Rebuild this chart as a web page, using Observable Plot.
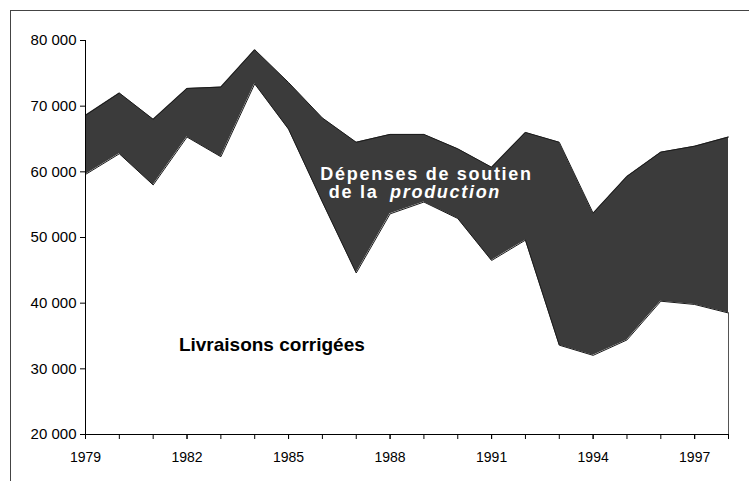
<!DOCTYPE html>
<html>
<head>
<meta charset="utf-8">
<script src="https://cdn.jsdelivr.net/npm/d3@7"></script>
<script src="https://cdn.jsdelivr.net/npm/@observablehq/plot@0.6"></script>
<style>
  html, body { margin: 0; padding: 0; background: #fff; }
  #wrap { position: relative; width: 749px; height: 481px; overflow: hidden; }
  #frame { position: absolute; left: 10px; top: 10px; right: 0; bottom: 0;
           border-left: 1px solid #444; border-top: 1px solid #444; pointer-events: none; }
  g[fill="white"] text { letter-spacing: 1.7px; }
</style>
</head>
<body>
<div id="wrap"><div id="frame"></div></div>
<script>
const years = [1979,1980,1981,1982,1983,1984,1985,1986,1987,1988,1989,1990,1991,1992,1993,1994,1995,1996,1997,1998];
const upper = [68600,72000,68000,72700,72900,78600,73600,68200,64500,65700,65700,63500,60700,66000,64500,53700,59300,63000,63900,65300];
const lower = [59600,62750,58000,65300,62300,73400,66500,55400,44600,53600,55400,52900,46500,49600,33600,32050,34400,40300,39800,38500];
const yTicks = [20000,30000,40000,50000,60000,70000,80000];
const xLabelYears = [1979,1982,1985,1988,1991,1994,1997];
const labelTop = "Dépenses de soutien";
const labelMid = "de la";
const labelItalic = "production";
const labelLow = "Livraisons corrigées";

const data = years.map((year, i) => ({year, upper: upper[i], lower: lower[i]}));
const fmt = v => d3.format(",")(v).replace(/,/g, " ");

const chart = Plot.plot({
  width: 749, height: 481,
  marginLeft: 85, marginRight: 21, marginTop: 40, marginBottom: 47,
  x: {domain: [1979, 1998], label: null},
  y: {domain: [20000, 80000], label: null},
  style: {fontFamily: "Arial, 'Liberation Sans', sans-serif", fontSize: "14px", background: "transparent", color: "#000"},
  marks: [
    Plot.areaY(data, {x: "year", y1: "lower", y2: "upper", fill: "#3b3b3b"}),
    Plot.line(data, {x: "year", y: "upper", stroke: "#1a1a1a", strokeWidth: 1}),
    Plot.line(data, {x: "year", y: "lower", stroke: "#1a1a1a", strokeWidth: 1}),
    Plot.ruleX(data.slice(-1), {x: "year", y1: 20000, y2: "lower", stroke: "#555", strokeWidth: 1}),
    Plot.ruleX([1979], {y1: 20000, y2: 80000, stroke: "#000"}),
    Plot.ruleY([20000], {x1: 1979, x2: 1998, stroke: "#000"}),
    Plot.axisY(yTicks, {tickSize: 5, tickPadding: 4, tickFormat: fmt, stroke: "#000", fontSize: 15}),
    Plot.axisX(years, {tickSize: 5, tickFormat: () => "", stroke: "#000"}),
    Plot.axisX(xLabelYears, {tickSize: 5, tickPadding: 13, tickFormat: d => String(d), stroke: "#000", fontSize: 14}),
    Plot.text([labelTop], {x: 1985.94, y: 58757, text: d => d, textAnchor: "start", lineAnchor: "bottom", fill: "white", fontWeight: "bold", fontSize: 18}),
    Plot.text([labelMid], {x: 1986.19, y: 55940, text: d => d, textAnchor: "start", lineAnchor: "bottom", fill: "white", fontWeight: "bold", fontSize: 18}),
    Plot.text([labelItalic], {x: 1988.0, y: 55940, text: d => d, textAnchor: "start", lineAnchor: "bottom", fill: "white", fontWeight: "bold", fontStyle: "italic", fontSize: 18}),
    Plot.text([labelLow], {x: 1981.76, y: 32687, text: d => d, textAnchor: "start", lineAnchor: "bottom", fill: "#000", fontWeight: "bold", fontSize: 19})
  ]
});
document.getElementById("wrap").insertBefore(chart, document.getElementById("frame"));
</script>
</body>
</html>
